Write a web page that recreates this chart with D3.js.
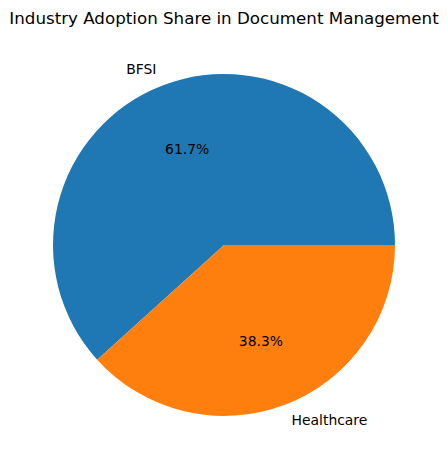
<!DOCTYPE html>
<html>
<head>
<meta charset="utf-8">
<script src="https://cdn.jsdelivr.net/npm/d3@7"></script>
<style>
  html, body { margin: 0; padding: 0; background: #fff; }
  svg { display: block; font-family: "DejaVu Sans", sans-serif; }
</style>
</head>
<body>
<svg id="chart" width="447" height="470"></svg>
<script>
const categories = ["BFSI", "Healthcare"];
const shares = [61.7, 38.3];
const colors = ["#1f77b4", "#ff7f0e"];
const title = "Industry Adoption Share in Document Management";

const W = 447, H = 470;
const cx = 224, cy = 245, R = 171;

const svg = d3.select("#chart");
const data = categories.map((c, i) => ({ label: c, value: shares[i] }));

// matplotlib: start at 3 o'clock, counterclockwise
const pie = d3.pie().value(d => d.value).sort(null)
  .startAngle(Math.PI / 2).endAngle(Math.PI / 2 - 2 * Math.PI);
const arcs = pie(data);

const g = svg.append("g").attr("transform", `translate(${cx},${cy})`);
const arc = d3.arc().innerRadius(0).outerRadius(R);
const labelArc = d3.arc().innerRadius(R * 1.1).outerRadius(R * 1.1);
const pctArc = d3.arc().innerRadius(R * 0.6).outerRadius(R * 0.6);
const color = d3.scaleOrdinal().domain(categories).range(colors);

g.selectAll("path.slice").data(arcs).join("path")
  .attr("class", "slice")
  .attr("d", arc)
  .attr("fill", d => color(d.data.label));

g.selectAll("text.lbl").data(arcs).join("text")
  .attr("class", "lbl")
  .attr("x", d => labelArc.centroid(d)[0])
  .attr("y", d => labelArc.centroid(d)[1])
  .attr("dy", "0.35em")
  .attr("text-anchor", d => labelArc.centroid(d)[0] < 0 ? "end" : "start")
  .attr("font-size", "13.9px")
  .attr("fill", "#000")
  .text(d => d.data.label);

g.selectAll("text.pct").data(arcs).join("text")
  .attr("class", "pct")
  .attr("x", d => pctArc.centroid(d)[0])
  .attr("y", d => pctArc.centroid(d)[1])
  .attr("dy", "0.35em")
  .attr("text-anchor", "middle")
  .attr("font-size", "13.9px")
  .attr("fill", "#000")
  .text(d => d3.format(".1f")(d.data.value) + "%");

svg.append("text")
  .attr("x", cx)
  .attr("y", 24)
  .attr("text-anchor", "middle")
  .attr("font-size", "16.7px")
  .attr("fill", "#000")
  .text(title);
</script>
</body>
</html>
